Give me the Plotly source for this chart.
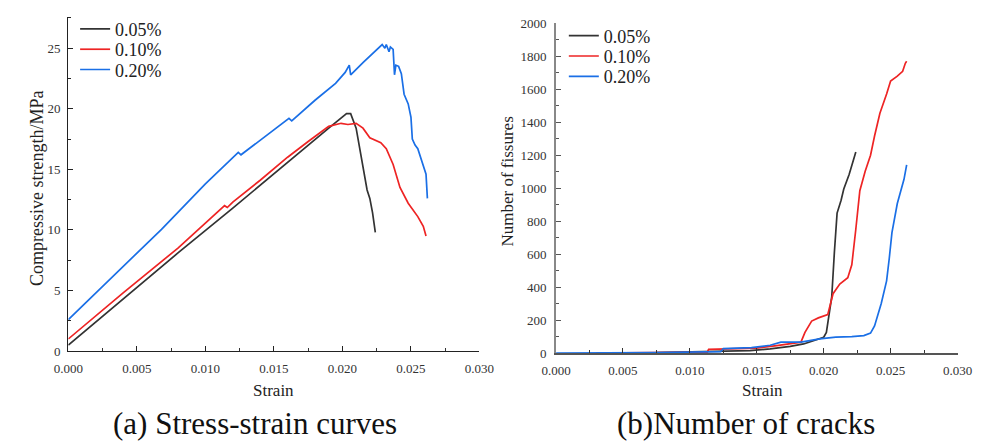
import plotly.graph_objects as go

W, H = 989, 448
labels = ["0.05%", "0.10%", "0.20%"]
colors = ["#333333", "#ee2424", "#1a6fe6"]

# (a) stress-strain
s1_x = [0, 0.004, 0.008, 0.012, 0.016, 0.019, 0.0203, 0.0206, 0.0210, 0.0213, 0.0216, 0.0218, 0.0220, 0.0222, 0.0224]
s1_y = [0.5, 4.3, 8.1, 11.8, 15.6, 18.4, 19.6, 19.6, 18.4, 16.6, 14.8, 13.3, 12.6, 11.4, 9.8]
s2_x = [0, 0.004, 0.008, 0.0114, 0.0116, 0.0120, 0.014, 0.016, 0.0175, 0.0190, 0.0199, 0.0204, 0.0210,
        0.0215, 0.0220, 0.0228, 0.0232, 0.0237, 0.0242, 0.0248, 0.0255, 0.0259, 0.0261]
s2_y = [1.0, 4.8, 8.5, 12.0, 11.85, 12.3, 14.1, 16.0, 17.3, 18.55, 18.8, 18.7, 18.8,
        18.4, 17.6, 17.2, 16.7, 15.4, 13.5, 12.2, 11.1, 10.3, 9.5]
s3_x = [0, 0.0035, 0.0068, 0.0100, 0.0124, 0.0126, 0.0140, 0.0161, 0.0163, 0.0180, 0.0195, 0.0202, 0.0205,
        0.0206, 0.0215, 0.0229, 0.0231, 0.0232, 0.0234, 0.0235, 0.0237, 0.0238, 0.0239, 0.0241, 0.0243,
        0.0245, 0.0248, 0.0250, 0.0251, 0.0253, 0.0255, 0.0258, 0.0260, 0.0261, 0.0262]
s3_y = [2.6, 6.4, 10.05, 13.8, 16.4, 16.2, 17.4, 19.2, 19.0, 20.7, 22.1, 23.0, 23.6,
        22.8, 23.8, 25.3, 25.0, 25.3, 24.7, 25.1, 24.9, 22.8, 23.6, 23.5, 22.9,
        21.2, 20.4, 19.3, 17.5, 17.0, 16.7, 15.6, 15.0, 14.6, 12.6]

# (b) number of cracks
c1_x = [0.0075, 0.010, 0.012, 0.0145, 0.016, 0.0175, 0.0185, 0.0195, 0.0200, 0.0202, 0.0204, 0.0206,
        0.0208, 0.0210, 0.0213, 0.0215, 0.0219, 0.0221, 0.0224]
c1_y = [3, 6, 10, 15, 25, 40, 55, 80, 96, 125, 230, 340, 614, 849, 927, 995, 1083, 1142, 1220]
c2_x = [0.0030, 0.0075, 0.0113, 0.0114, 0.0125, 0.015, 0.0165, 0.0178, 0.0183, 0.0186, 0.0191, 0.0196,
        0.0203, 0.0207, 0.0212, 0.0218, 0.0221, 0.0224, 0.0227, 0.0231, 0.0235, 0.0238, 0.0242, 0.0247,
        0.0250, 0.0255, 0.0259, 0.0261, 0.0262]
c2_y = [0, 2, 5, 22, 25, 30, 45, 60, 66, 125, 194, 213, 233, 360, 418, 457, 535, 751, 985, 1103,
        1200, 1317, 1455, 1572, 1650, 1680, 1709, 1758, 1770]
c3_x = [0, 0.0025, 0.0075, 0.0123, 0.0125, 0.0146, 0.0160, 0.0168, 0.0183, 0.0197, 0.0209, 0.0221,
        0.0230, 0.0235, 0.0238, 0.0243, 0.0247, 0.0249, 0.0251, 0.0255, 0.0258, 0.0260, 0.0262]
c3_y = [0, 0, 3, 8, 27, 33, 47, 66, 66, 86, 96, 100, 106, 121, 164, 301, 438, 575, 731, 907,
        1005, 1054, 1142]

x_ticks = [0.000, 0.005, 0.010, 0.015, 0.020, 0.025, 0.030]
x_ticklabels = ["0.000", "0.005", "0.010", "0.015", "0.020", "0.025", "0.030"]
ya_ticks = [0, 5, 10, 15, 20, 25]
yb_ticks = [0, 200, 400, 600, 800, 1000, 1200, 1400, 1600, 1800, 2000]

SERIF = "Liberation Serif"


def px(x):
    return x / W


def py(y):
    return 1 - y / H


legend_rows_a = [23, 44, 65]
legend_rows_b = [30, 51, 72]

fig = go.Figure()
layout_legends = {}
k = 1
for xs, ys, lab, col, row in zip([s1_x, s2_x, s3_x], [s1_y, s2_y, s3_y], labels, colors, legend_rows_a):
    name = "legend" if k == 1 else f"legend{k}"
    fig.add_trace(go.Scatter(x=xs, y=ys, mode="lines", name=lab, line=dict(color=col, width=1.7),
                             xaxis="x", yaxis="y", legend=name))
    layout_legends[name] = dict(x=px(62), y=py(row), xanchor="left", yanchor="middle",
                                bgcolor="rgba(0,0,0,0)", font=dict(family=SERIF, size=18, color="#222"))
    k += 1
for xs, ys, lab, col, row in zip([c1_x, c2_x, c3_x], [c1_y, c2_y, c3_y], labels, colors, legend_rows_b):
    name = f"legend{k}"
    fig.add_trace(go.Scatter(x=xs, y=ys, mode="lines", name=lab, line=dict(color=col, width=1.7),
                             xaxis="x2", yaxis="y2", legend=name))
    layout_legends[name] = dict(x=px(566), y=py(row), xanchor="left", yanchor="middle",
                                bgcolor="rgba(0,0,0,0)", font=dict(family=SERIF, size=18, color="#222"))
    k += 1

tickfont = dict(family=SERIF, size=13, color="#333")
common_x = dict(range=[0, 0.030], tickvals=x_ticks, ticktext=x_ticklabels, ticks="inside", ticklen=5,
                showgrid=False, zeroline=False, showline=True, tickfont=tickfont, ticklabelstandoff=5,
                minor=dict(dtick=0.0025, ticks="inside", ticklen=3, tickcolor="#333"))

fig.update_layout(
    width=W, height=H, margin=dict(l=0, r=0, t=0, b=0),
    paper_bgcolor="white", plot_bgcolor="white",
    xaxis=dict(domain=[px(55), px(479)], anchor="y", linecolor="#222", linewidth=1.3, tickcolor="#222",
               **common_x),
    yaxis=dict(domain=[py(356), py(10)], range=[0, 27.6], anchor="x", tickvals=ya_ticks, ticks="inside",
               ticklen=5, showgrid=False, zeroline=False, showline=True, linecolor="#222", linewidth=1.3,
               tickcolor="#222", tickfont=tickfont, ticklabelstandoff=4,
               minor=dict(dtick=2.5, ticks="inside", ticklen=3, tickcolor="#222")),
    xaxis2=dict(domain=[px(558), px(972)], anchor="y2", linecolor="#555", linewidth=1.6, tickcolor="#333",
                **common_x),
    yaxis2=dict(domain=[py(358), py(17)], range=[0, 2000], anchor="x2", tickvals=yb_ticks, ticks="inside",
                ticklen=5, showgrid=False, zeroline=False, showline=True, linecolor="#888", linewidth=2,
                tickcolor="#555", tickfont=tickfont, ticklabelstandoff=5,
                minor=dict(dtick=100, ticks="inside", ticklen=3, tickcolor="#555")),
    showlegend=True,
    **layout_legends,
)

ann = [
    dict(text="Strain", x=px(267), y=py(397), font=dict(family=SERIF, size=17, color="#222")),
    dict(text="Strain", x=px(771), y=py(397), font=dict(family=SERIF, size=17, color="#222")),
    dict(text="Compressive strength/MPa", x=px(22), y=py(187), textangle=-90,
         font=dict(family=SERIF, size=18, color="#222")),
    dict(text="Number of fissures", x=px(508), y=py(181), textangle=-90,
         font=dict(family=SERIF, size=17, color="#222")),
    dict(text="(a) Stress-strain curves", x=px(247), y=py(431), font=dict(family=SERIF, size=31, color="#111")),
    dict(text="(b)Number of cracks", x=px(754), y=py(431), font=dict(family=SERIF, size=31, color="#111")),
]
for a in ann:
    a.update(xref="paper", yref="paper", showarrow=False, xanchor="center", yanchor="middle")
fig.update_layout(annotations=ann)

fig.write_html("out.html")
